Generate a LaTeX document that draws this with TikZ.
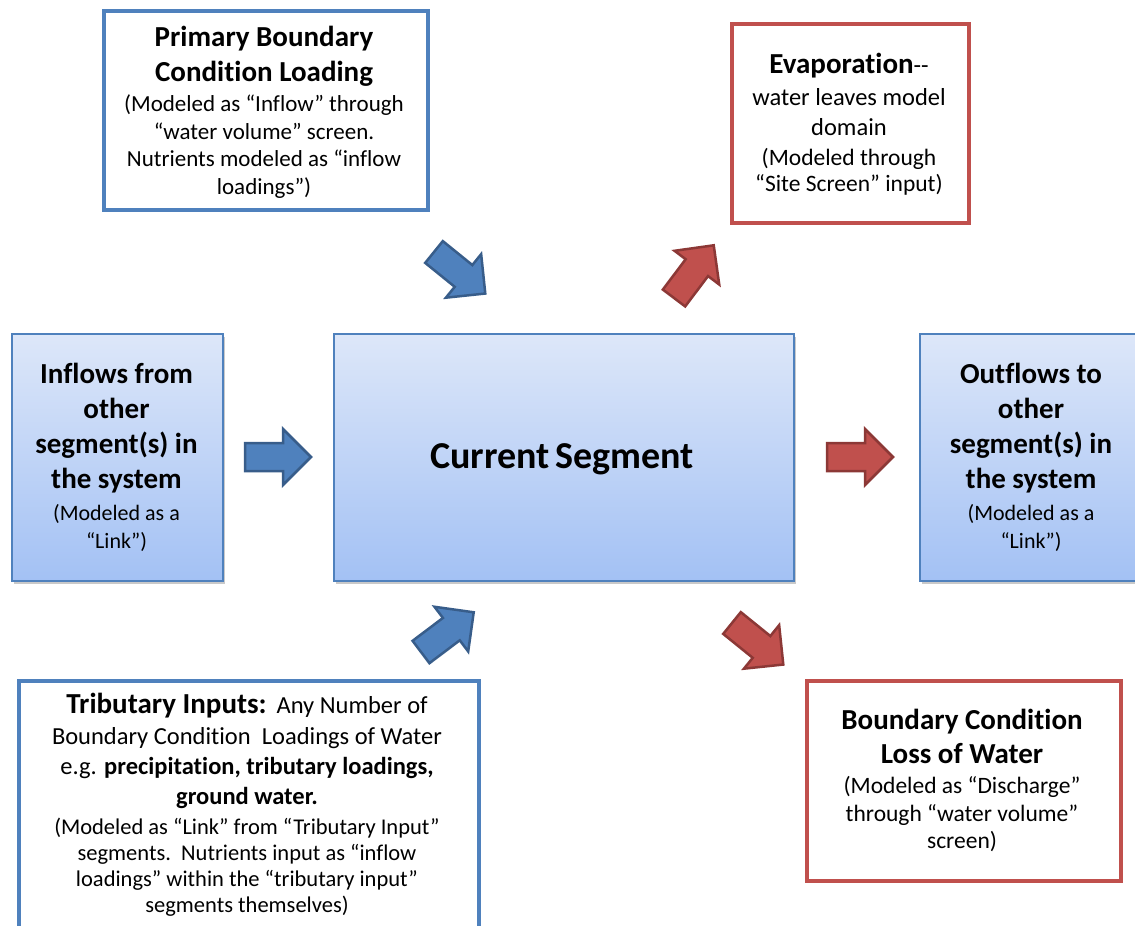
\documentclass[tikz,border=0pt]{standalone}
\usepackage{fontspec}
\setmainfont{Carlito}[Ligatures=NoCommon]
\usetikzlibrary{shadows}
\definecolor{bblue}{HTML}{4F81BD}
\definecolor{bbluedark}{HTML}{385D8A}
\definecolor{bred}{HTML}{C0504D}
\definecolor{breddark}{HTML}{8C3836}
\definecolor{gtop}{HTML}{DDE7F9}
\definecolor{gbot}{HTML}{A3C1F4}
\newcommand\bigb{\fontsize{29}{35}\selectfont\bfseries}
\newcommand\midr{\fontsize{24.5}{30}\selectfont\mdseries}
\newcommand\smr{\fontsize{23}{27.5}\selectfont\mdseries}
\newcommand\blkarrow[4]{\draw[barrow=#1, shift={(#2,#3)}, rotate=#4]
  (0,14) -- (38,14) -- (38,28) -- (66,0) -- (38,-28) -- (38,-14) -- (0,-14) -- cycle;}
\begin{document}
\begin{tikzpicture}[x=1pt,y=-1pt,
  wbox/.style={draw=#1, line width=3.5pt, fill=white, inner sep=0pt, anchor=north west},
  gbox/.style={draw=bblue, line width=1.5pt, top color=gtop, bottom color=gbot, inner sep=0pt, anchor=north west,
    drop shadow={shadow xshift=2.5pt, shadow yshift=-3pt, opacity=0.35, fill=black!60}},
  txt/.style={anchor=base, inner sep=0pt, text=black},
  barrow/.style={fill=#1, draw=#1dark, line width=2.5pt, line join=miter},
]
\useasboundingbox (0,0) rectangle (1135,926);
\fill[white] (0,0) rectangle (1135,926);

% boxes
\node[wbox=bblue, minimum width=324pt, minimum height=199pt] (pbox) at (102,9) {};
\node[wbox=bred, minimum width=237pt, minimum height=199pt] (ebox) at (730,22) {};
\node[gbox, minimum width=211pt, minimum height=247pt] (ibox) at (11,333) {};
\node[gbox, minimum width=460pt, minimum height=247pt] (cbox) at (333,333) {};
\node[gbox, minimum width=226pt, minimum height=247pt] (obox) at (919,333) {};
\node[wbox=bblue, minimum width=460pt, minimum height=262pt] (tbox) at (17,679) {};
\node[wbox=bred, minimum width=314pt, minimum height=200pt] (lbox) at (805,679) {};

% texts
\node[txt] (ptext) at (264,46) {\parbox[t]{320pt}{\centering\bigb Primary Boundary\\ Condition Loading\par
  \smr\vspace{3pt}(Modeled as “Inflow” through\\ “water volume” screen.\\ Nutrients modeled as “inflow\\ loadings”)\par}};

\node[txt] (etext) at (849,73) {\parbox[t]{232pt}{\centering{\bigb Evaporation}{\midr-{}-}\par
  \midr\vspace{2.5pt}water leaves model\\ domain\par
  \fontsize{23.5}{26.5}\selectfont\vspace{3pt}(Modeled through\\ “Site Screen” input)\par}};

\node[txt] (itext) at (116.5,383) {\parbox[t]{205pt}{\centering\bigb Inflows from\\ other\\ segment(s) in\\ the system\par
  \fontsize{22}{28}\selectfont\mdseries\vspace{4.5pt}(Modeled as a\\ “Link”)\par}};

\node[txt] (otext) at (1031,383) {\parbox[t]{220pt}{\centering\bigb Outflows to\\ other\\ segment(s) in\\ the system\par
  \fontsize{22}{28}\selectfont\mdseries\vspace{4.5pt}(Modeled as a\\ “Link”)\par}};

\node[txt, anchor=center, font=\fontsize{38}{44}\selectfont\bfseries] (ctext) at (562,459) {Current\hspace{6pt}Segment};

\node[txt] (ttext) at (247,713) {\parbox[t]{455pt}{\centering{\bigb Tributary Inputs:}\hspace{10pt}{\midr Any Number of}\par
  \midr\vspace{1.5pt}Boundary Condition\ \ Loadings of Water\\ e.g. \textbf{precipitation, tributary loadings,}\\ \textbf{ground water.}\par
  \fontsize{22.5}{26}\selectfont\vspace{4pt}(Modeled as “Link” from “Tributary Input”\\ segments.\ \ Nutrients input as “inflow\\ loadings” within the “tributary input”\\ segments themselves)\par}};

\node[txt] (ltext) at (962,729) {\parbox[t]{310pt}{\centering\fontsize{29}{34}\selectfont\bfseries Boundary Condition\\ Loss of Water\par
  \fontsize{23.5}{27.5}\selectfont\mdseries\vspace{3pt}(Modeled as “Discharge”\\ through “water volume”\\ screen)\par}};

% block arrows
\blkarrow{bblue}{245}{457}{0}
\blkarrow{bred}{827}{457}{0}
\blkarrow{bblue}{434}{252}{-39}
\blkarrow{bred}{674}{298}{53}
\blkarrow{bblue}{421}{652}{37}
\blkarrow{bred}{732}{623}{-39}
\end{tikzpicture}
\end{document}
